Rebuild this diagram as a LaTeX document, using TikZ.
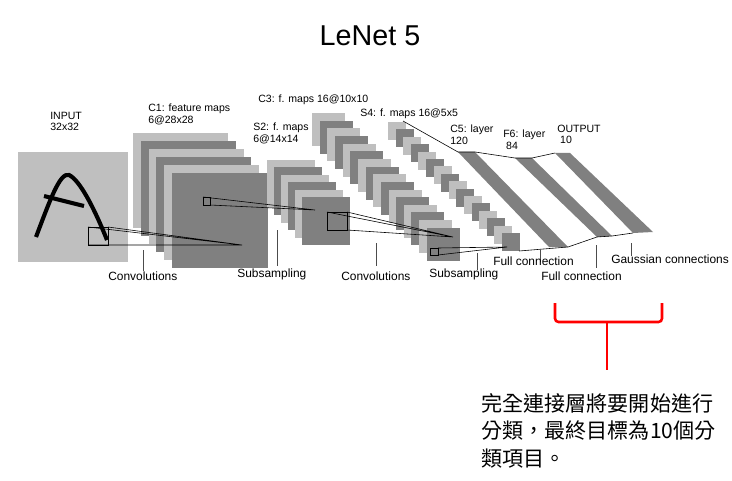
\documentclass[tikz,border=0pt]{standalone}
\usepackage{fontspec}
\setmainfont{Liberation Sans}
\newfontfamily\cjk{Noto Sans CJK TC}
\begin{document}
\begin{tikzpicture}[x=0.03cm,y=-0.03cm,line width=.5pt,
  lite/.style={fill=black!25},
  dark/.style={fill=black!50},
  lbl/.style={font=\fontsize{9}{9.5}\selectfont,align=left,anchor=north west,inner sep=0pt},
  oplbl/.style={font=\fontsize{10.2}{11}\selectfont,anchor=north west,inner sep=0pt},
  tick/.style={draw=black!70,line width=.6pt}]
\useasboundingbox (0,0) rectangle (732,481);

% title
\node (title) at (370,36) {\fontsize{24.5}{26}\selectfont LeNet 5};

% input
\fill[lite] (18,152) rectangle (128,262);
\draw[line width=3.5pt] (36,237) .. controls (50,200) and (60,172) .. (69,175) .. controls (80,180) and (95,210) .. (107,240);
\draw[line width=3.5pt] (44,196) -- (84,206);
\node[lbl] (inp) at (50,112) {INPUT\\32x32};

% C1
\foreach \i in {0,...,5} {
  \ifodd\i \def\sty{dark}\else\def\sty{lite}\fi
  \fill[\sty] (133+7.8*\i,133+8*\i) rectangle ++(95,95);
}
\fill[dark] (172,173) rectangle (268,268);
\node[lbl] (c1) at (148,104) {C1: feature maps\\6@28x28};

% S2
\foreach \i in {0,...,5} {
  \ifodd\i \def\sty{dark}\else\def\sty{lite}\fi
  \fill[\sty] (267+7*\i,160+7.4*\i) rectangle ++(48,48);
}
\fill[dark] (302,197) rectangle (350,245);
\node[lbl] (s2) at (253,123) {S2: f. maps\\6@14x14};

% C3
\foreach \i in {0,...,15} {
  \ifodd\i \def\sty{dark}\else\def\sty{lite}\fi
  \fill[\sty] (312+7.65*\i,113+7.65*\i) rectangle ++(33,33);
}
\fill[dark] (427,228) rectangle (460,261);
\node[lbl] (c3) at (258,95) {C3: f. maps 16@10x10};

% S4
\foreach \i in {0,...,15} {
  \ifodd\i \def\sty{dark}\else\def\sty{lite}\fi
  \fill[\sty] (388+7.6*\i,122+7.4*\i) rectangle ++(18,18);
}
\fill[dark] (502,233) rectangle (520,251);
\node[lbl] (s4) at (360,109) {S4: f. maps 16@5x5};

% C5, F6, OUTPUT
\fill[dark] (458,152) -- (475,152) -- (568,247) -- (549,247) -- cycle;
\fill[dark] (515,158) -- (532,158) -- (612,236) -- (597,237) -- cycle;
\fill[dark] (555,153) -- (570,153) -- (653,232) -- (633,233) -- cycle;
\node[lbl] (c5) at (450,125) {C5: layer\\120};
\node[lbl] (f6) at (503,130) {F6: layer\\\ 84};
\node[lbl] (out) at (557,125) {OUTPUT\\\ 10};
\draw (403,121) -- (458,152) -- (475,152) -- (515,158) -- (532,158) -- (555,153);
\draw (519,251) -- (568,247) -- (597,237) -- (612,236) -- (633,233);

% receptive fields
\draw (88,227) rectangle (108,245);
\draw (88,245) -- (242,245) -- (108,227) (88,227) -- (242,245);
\draw (203,197) rectangle (210,205);
\draw (203,197) -- (315,210) -- (210,205);
\draw (327,212) rectangle (347,230);
\draw (347,212) -- (453,237) -- (347,230) (327,212) -- (453,237);
\draw (430,248) rectangle (438,255);
\draw (438,248) -- (507,247) -- (438,255);

% operations
\draw[tick] (143,250) -- (143,271);
\node[oplbl] (op1) at (108,272) {Convolutions};
\draw[tick] (277,230) -- (277,266);
\node[oplbl] (op2) at (237,269) {Subsampling};
\draw[tick] (376,243) -- (376,266);
\node[oplbl] (op3) at (341,272) {Convolutions};
\draw[tick] (477,253) -- (477,270);
\node[oplbl] (op4) at (429,269) {Subsampling};
\draw[tick] (540,250) -- (540,262);
\node[oplbl] (op5) at (493,257) {Full connection};
\draw[tick] (596,245) -- (596,268);
\node[oplbl] (op6) at (541,272) {Full connection};
\draw[tick] (631,243) -- (631,256);
\node[oplbl] (op7) at (611,255) {Gaussian connections};

% bracket and note
\draw[red,line width=2.2pt,rounded corners=3pt] (555,303) -- (555,322) -- (662,322) -- (662,303);
\draw[red,line width=2.2pt] (607,322) -- (607,370);
\node[anchor=north west,inner sep=0pt,align=left,font=\cjk\fontsize{18}{23.4}\selectfont] (note) at (481,393)
  {完全連接層將要開始進行\\分類，最終目標為10個分\\類項目。};
\end{tikzpicture}
\end{document}
